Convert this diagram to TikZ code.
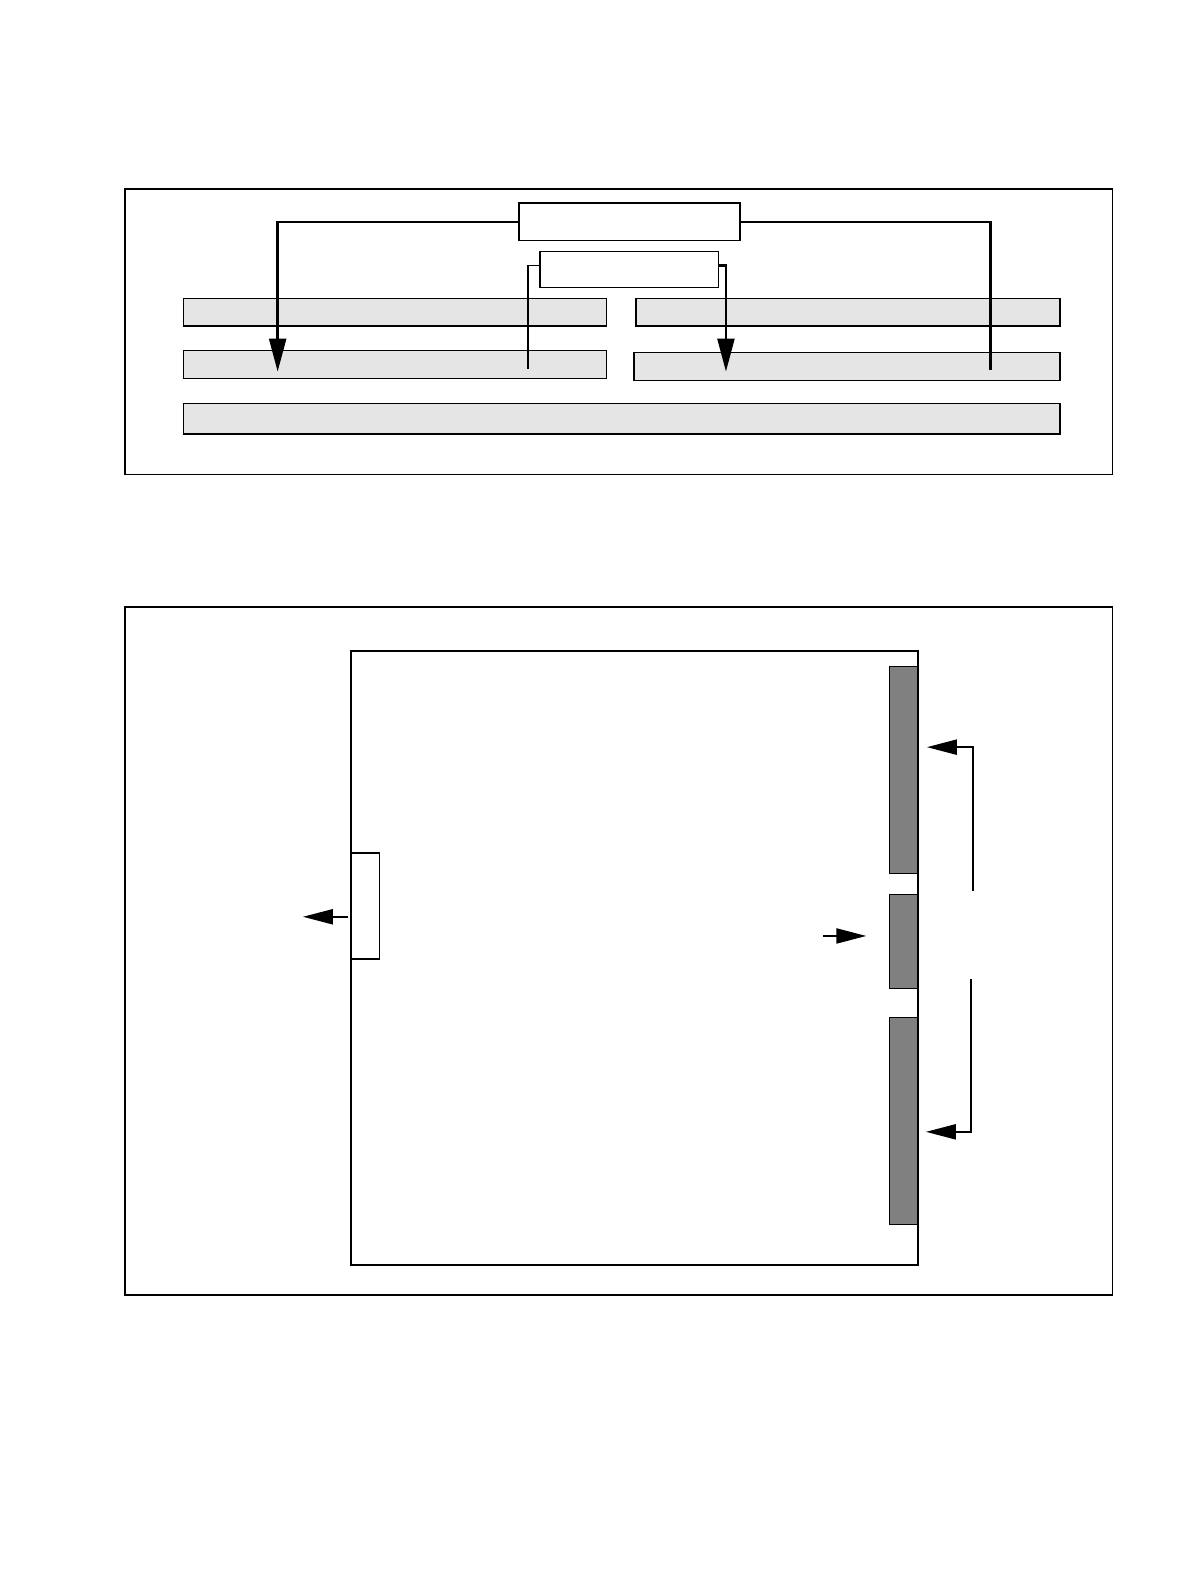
\documentclass[tikz,border=0pt]{standalone}
\usetikzlibrary{shapes,arrows.meta}
\tikzset{
  frame/.style={draw, rectangle, line width=1.6pt, inner sep=0pt, outer sep=0pt},
  whitebox/.style={draw, rectangle, fill=white, line width=1.3pt, inner sep=0pt, outer sep=0pt},
  bar/.style={draw, rectangle, fill=black!10, line width=1.3pt, inner sep=0pt, outer sep=0pt},
  slot/.style={draw, rectangle, fill=black!50, line width=1.3pt, inner sep=0pt, outer sep=0pt},
  conn/.style={line width=2.4pt, -{Triangle[length=33pt,width=17pt]}},
  shortconn/.style={line width=2.2pt, -{Triangle[length=30pt,width=15pt]}},
  plain/.style={line width=2.2pt}
}
\begin{document}
\begin{tikzpicture}[x=1pt,y=-1pt]
    \useasboundingbox (0,0) rectangle (1190,1582);
  \begin{scope}[scale=1.0095, transform shape]
    % upper panel
    \node[frame, minimum width=978pt, minimum height=283pt] (upper) at (613, 328.5) {};
    \draw[line width=2.4pt] (upper.north west) -- (upper.north east);
    \node[bar, minimum width=419pt, minimum height=27pt] (barL1) at (391.5, 309.5) {};
    \node[bar, minimum width=420pt, minimum height=27pt] (barR1) at (840, 309.5) {};
    \node[bar, minimum width=419pt, minimum height=28pt] (barL2) at (391.5, 361) {};
    \node[bar, minimum width=422pt, minimum height=28pt] (barR2) at (839, 363) {};
    \node[bar, minimum width=868pt, minimum height=30pt] (barAll) at (616, 415) {};
    \coordinate (tipA) at (275, 368);
    \coordinate (endA) at (981, 366);
    \coordinate (endB) at (523, 365);
    \coordinate (tipB) at (719, 368);
    \draw[conn] (514, 220) -| (tipA);
    \draw[plain] (733, 220) -| (endA);
    \draw[line width=1.4pt] (535, 263) -| (endB);
    \draw[conn] (712, 263) -| (tipB);
    \node[whitebox, minimum width=219pt, minimum height=37pt] (boxA) at (623.5, 219.5) {};
    \node[whitebox, minimum width=177pt, minimum height=36pt] (boxB) at (623.5, 267) {};
    % lower panel
    \node[frame, minimum width=978pt, minimum height=682pt] (lower) at (613, 942) {};
    \node[frame, line width=2.2pt, minimum width=561pt, minimum height=608pt] (board) at (628.5, 949) {};
    \node[whitebox, minimum width=28pt, minimum height=105pt] (port) at (362, 897.5) {};
    \node[slot, minimum width=28pt, minimum height=205pt] (slotA) at (895, 762.5) {};
    \node[slot, minimum width=28pt, minimum height=93pt] (slotB) at (895, 932.5) {};
    \node[slot, minimum width=28pt, minimum height=205pt] (slotC) at (895, 1110.5) {};
    \coordinate (portOut) at (345, 908);
    \coordinate (portTip) at (300, 908);
    \coordinate (inStart) at (815, 927);
    \coordinate (inTip) at (858, 927);
    \coordinate (brTop) at (964, 882);
    \coordinate (upTip) at (918, 740);
    \coordinate (brBot) at (962, 970);
    \coordinate (loTip) at (917, 1121);
    \draw[shortconn] (portOut) -- (portTip);
    \draw[shortconn] (inStart) -- (inTip);
    \draw[shortconn] (brTop) |- (upTip);
    \draw[shortconn] (brBot) |- (loTip);
  \end{scope}
\end{tikzpicture}
\end{document}
